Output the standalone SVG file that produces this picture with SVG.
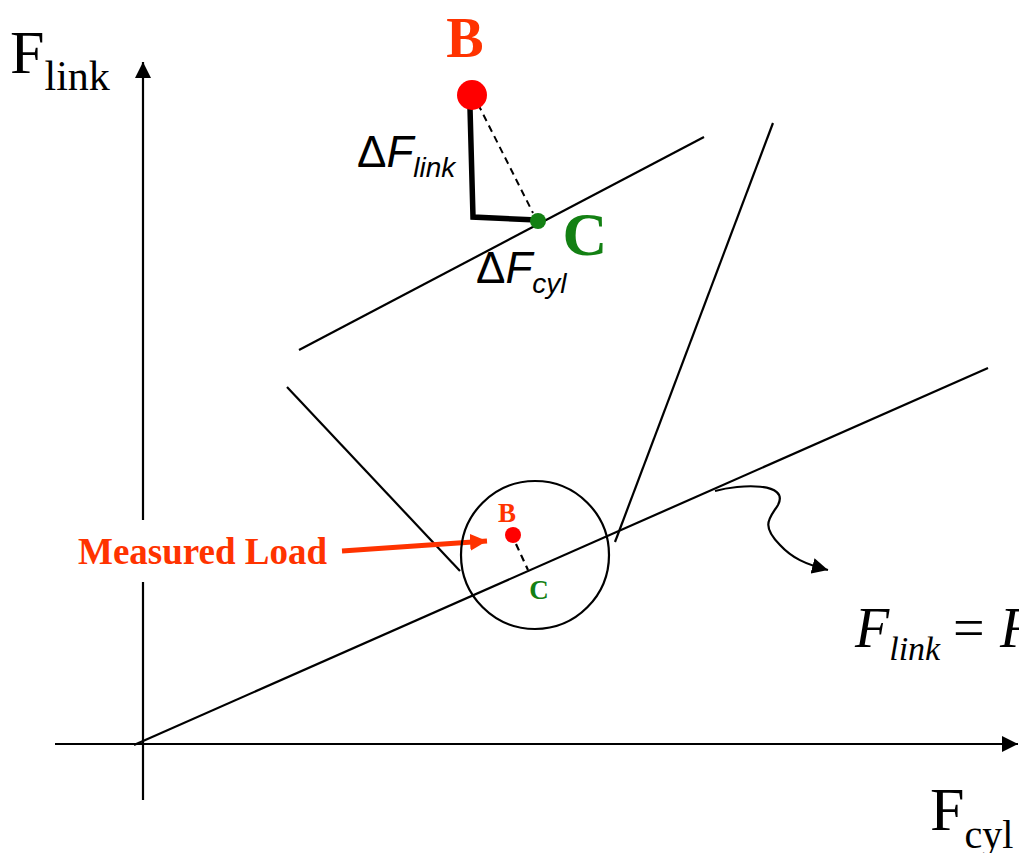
<svg xmlns="http://www.w3.org/2000/svg" width="1019" height="853" viewBox="0 0 1019 853">
<defs>
<style>
.ln{stroke:#000;stroke-width:2.2;fill:none}
.serif{font-family:"Liberation Serif","Times New Roman",serif}
.sans{font-family:"Liberation Sans",Arial,sans-serif}
.red{fill:#FF3300;font-weight:bold}
.green{fill:#138013;font-weight:bold}
</style>
<marker id="ah2" viewBox="0 0 10 10" refX="10" refY="5" markerWidth="16" markerHeight="16" markerUnits="userSpaceOnUse" orient="auto"><path d="M0,0 L10,5 L0,10 z" fill="#000"/></marker>
<marker id="ahr" viewBox="0 0 10 10" refX="10" refY="5" markerWidth="17" markerHeight="17" markerUnits="userSpaceOnUse" orient="auto"><path d="M0,0 L10,5 L0,10 z" fill="#FF3300"/></marker>
</defs>
<g id="connectors">
<line class="ln" x1="143" y1="800" x2="143" y2="62" marker-end="url(#ah2)"/>
<line class="ln" x1="55" y1="744" x2="1018" y2="744" marker-end="url(#ah2)"/>
<line class="ln" x1="134" y1="745" x2="988" y2="368"/>
<line class="ln" x1="299" y1="350" x2="704" y2="137"/>
<line class="ln" x1="287" y1="387" x2="460" y2="571"/>
<line class="ln" x1="773" y1="123" x2="615" y2="542"/>
<path class="ln" d="M715,491 C740,484 790,482 778,505 C770,518 760,525 780,545 C792,558 805,564 828,570" marker-end="url(#ah2)"/>
<polyline points="470,108 473,217 537,220" fill="none" stroke="#000" stroke-width="5.5"/>
<line x1="478" y1="104" x2="533" y2="213" stroke="#000" stroke-width="2" stroke-dasharray="7,5"/>
<line x1="516" y1="544" x2="528" y2="570" stroke="#000" stroke-width="2.2" stroke-dasharray="7,5"/>
<line x1="342" y1="551" x2="487" y2="541" stroke="#FF3300" stroke-width="5" marker-end="url(#ahr)"/>
</g>
<g id="axis-labels">
<rect x="74" y="520" width="262" height="62" fill="#fff"/>
<text class="serif" x="10" y="73" font-size="62">F<tspan font-size="42" dy="17">link</tspan></text>
<text class="serif" x="930" y="830" font-size="62">F<tspan font-size="40" dy="18">cyl</tspan></text>
</g>
<g id="zoom-circle">
<circle cx="535" cy="555" r="74" class="ln"/>
</g>
<g id="node-B-small">
<circle cx="513" cy="535" r="8" fill="#FF0000"/>
<text class="serif red" x="507" y="522" font-size="27" text-anchor="middle">B</text>
</g>
<g id="node-C-small">
<text class="serif green" x="539" y="599" font-size="27" text-anchor="middle">C</text>
</g>
<g id="node-B">
<circle cx="472" cy="95" r="15" fill="#FF0000"/>
<text class="serif red" x="465" y="57" font-size="56" text-anchor="middle">B</text>
</g>
<g id="node-C">
<circle cx="538" cy="221" r="8" fill="#138013"/>
<text class="serif green" x="585" y="255" font-size="62" text-anchor="middle">C</text>
</g>
<g id="label-dflink">
<text class="sans" x="357" y="167" font-size="44">Δ<tspan font-style="italic">F</tspan><tspan font-style="italic" font-size="28" dy="10">link</tspan></text>
</g>
<g id="label-dfcyl">
<text class="sans" x="476" y="283" font-size="44">Δ<tspan font-style="italic">F</tspan><tspan font-style="italic" font-size="28" dy="10">cyl</tspan></text>
</g>
<g id="measured-load">
<text class="serif red" x="78" y="564" font-size="37">Measured Load</text>
</g>
<g id="equation">
<text class="serif" x="855" y="647" font-size="56" font-style="italic">F<tspan font-size="34" dy="13">link</tspan><tspan x="953" dy="-13" font-style="normal">=</tspan><tspan x="1000">F</tspan></text>
</g>
</svg>
